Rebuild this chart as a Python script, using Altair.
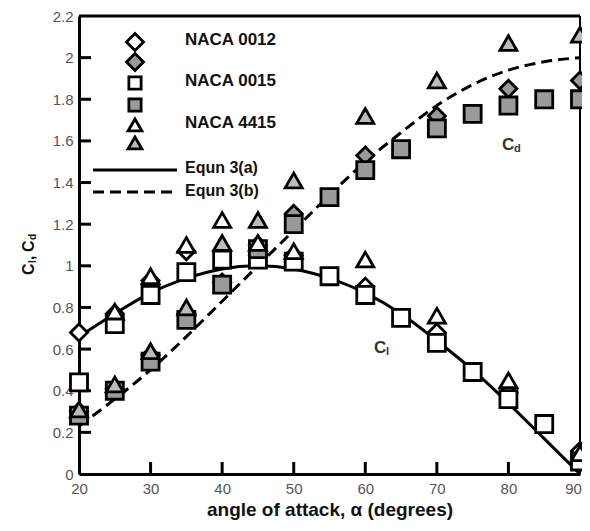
import altair as alt
import pandas as pd

# ---------------- data ----------------
angle_ticks = [20, 30, 40, 50, 60, 70, 80, 90]
coef_ticks = [0, 0.2, 0.4, 0.6, 0.8, 1.0, 1.2, 1.4, 1.6, 1.8, 2.0, 2.2]
inner_angle_ticks = [30, 40, 50, 60, 70, 80]
inner_coef_ticks = [0.2, 0.4, 0.6, 0.8, 1.0, 1.2, 1.4, 1.6, 1.8, 2.0]

alpha_0012 = [20, 25, 30, 35, 40, 45, 50, 60, 70, 80, 90]
cl_0012 = [0.68, 0.77, 0.93, 1.07, 1.07, 1.05, 1.05, 0.90, 0.68, 0.39, 0.11]
cd_0012 = [0.30, 0.41, 0.57, 0.77, 0.92, 1.10, 1.25, 1.53, 1.72, 1.85, 1.89]

alpha_0015 = [20, 25, 30, 35, 40, 45, 50, 55, 60, 65, 70, 75, 80, 85, 90]
cl_0015 = [0.44, 0.72, 0.86, 0.97, 1.03, 1.03, 1.02, 0.95, 0.86, 0.75, 0.63, 0.49, 0.36, 0.24, 0.06]
cd_0015 = [0.28, 0.40, 0.54, 0.74, 0.91, 1.08, 1.20, 1.33, 1.46, 1.56, 1.66, 1.73, 1.77, 1.80, 1.80]

alpha_4415_cl = [25, 30, 35, 40, 45, 50, 60, 70, 80, 90]
cl_4415 = [0.78, 0.95, 1.10, 1.22, 1.11, 1.07, 1.03, 0.76, 0.45, 0.10]
alpha_4415_cd = [20, 25, 30, 35, 40, 45, 50, 60, 70, 80, 90]
cd_4415 = [0.31, 0.43, 0.59, 0.80, 1.11, 1.22, 1.41, 1.72, 1.89, 2.07, 2.11]

curve_alpha = [20, 25, 30, 35, 40, 45, 50, 55, 60, 65, 70, 75, 80, 85, 90]
curve_cl = [0.66, 0.77, 0.87, 0.94, 0.985, 1.0, 0.985, 0.94, 0.87, 0.77, 0.64, 0.50, 0.34, 0.17, 0.0]
curve_cd = [0.23, 0.36, 0.50, 0.66, 0.83, 1.0, 1.17, 1.34, 1.50, 1.64, 1.77, 1.87, 1.94, 1.98, 2.0]

series_names = ["0012 Cl", "0012 Cd", "0015 Cl", "0015 Cd", "4415 Cl", "4415 Cd"]

# ---------------- tables ----------------
rows = []
for name, al, vals in [
    ("0012 Cl", alpha_0012, cl_0012), ("0012 Cd", alpha_0012, cd_0012),
    ("0015 Cl", alpha_0015, cl_0015), ("0015 Cd", alpha_0015, cd_0015),
    ("4415 Cl", alpha_4415_cl, cl_4415), ("4415 Cd", alpha_4415_cd, cd_4415),
]:
    for a, v in zip(al, vals):
        rows.append({"alpha": a, "coef": v, "series": name})
pts = pd.DataFrame(rows)

curves = pd.DataFrame({"alpha": curve_alpha + curve_alpha,
                       "coef": curve_cl + curve_cd,
                       "eq": ["3(a)"] * len(curve_alpha) + ["3(b)"] * len(curve_alpha)})

W, H = 501, 458
GRAY = "#9a9a9a"
xs = alt.Scale(domain=[20, 90], nice=False, zero=False)
ys = alt.Scale(domain=[0, 2.2], nice=False, zero=False)

x_axis = alt.Axis(values=angle_ticks, ticks=False, tickSize=0, domainWidth=3, domainColor="black",
                  labelFont="Liberation Sans", labelFontSize=15, labelColor="#555555", labelPadding=7,
                  labelFlush=False,
                  labelOffset={"condition": {"test": "datum.value == 90", "value": -7}, "value": 0},
                  grid=False, title="angle of attack, α (degrees)",
                  titleFont="Liberation Sans", titleFontSize=19, titleFontWeight="bold",
                  titleColor="#111111", titlePadding=4)
y_axis = alt.Axis(values=coef_ticks, format="~g", ticks=False, tickSize=0, domainWidth=3, domainColor="black",
                  labelFont="Liberation Sans", labelFontSize=15, labelColor="#555555", labelPadding=6,
                  labelFlush=False, grid=False, title=" ")

X = lambda: alt.X("alpha:Q", scale=xs, axis=x_axis)
Y = lambda: alt.Y("coef:Q", scale=ys, axis=y_axis)

sol = alt.Chart(curves).transform_filter(alt.datum.eq == "3(a)").mark_line(
    color="black", strokeWidth=3, interpolate="monotone").encode(x=X(), y=Y())
dash = alt.Chart(curves).transform_filter(alt.datum.eq == "3(b)").mark_line(
    color="black", strokeWidth=3, strokeDash=[11, 6], interpolate="monotone").encode(x=X(), y=Y())

shape_scale = alt.Scale(domain=series_names,
                        range=["diamond", "diamond", "square", "square", "triangle-up", "triangle-up"])
fill_scale = alt.Scale(domain=series_names,
                       range=["white", GRAY, "white", GRAY, "white", "#bbbbbb"])
size_scale = alt.Scale(domain=series_names, range=[290, 290, 150, 150, 190, 190])

points = alt.Chart(pts).mark_point(filled=False, stroke="black", strokeWidth=2.8, opacity=1).encode(
    x=X(), y=Y(),
    shape=alt.Shape("series:N", scale=shape_scale, legend=None),
    fill=alt.Fill("series:N", scale=fill_scale, legend=None),
    size=alt.Size("series:N", scale=size_scale, legend=None),
)

xt = alt.Chart(pd.DataFrame({"alpha": inner_angle_ticks})).mark_rule(color="black", strokeWidth=3).encode(
    x=X(), y=alt.value(H), y2=alt.value(H - 12))
yt = alt.Chart(pd.DataFrame({"coef": inner_coef_ticks})).mark_rule(color="black", strokeWidth=3).encode(
    y=Y(), x=alt.value(0), x2=alt.value(12))

one = pd.DataFrame({"k": [0]})
top = alt.Chart(one).mark_rule(color="black", strokeWidth=3).encode(
    x=alt.value(0), x2=alt.value(W), y=alt.value(0))
right = alt.Chart(one).mark_rule(color="black", strokeWidth=2).encode(
    x=alt.value(W), y=alt.value(0), y2=alt.value(H))


def txt(s, x, y, size=16, weight="bold", color="#111111", angle=0, align="left", baseline="middle"):
    return alt.Chart(one).mark_text(text=s, font="Liberation Sans", fontSize=size, fontWeight=weight,
                                    color=color, angle=angle, align=align, baseline=baseline).encode(
        x=alt.value(x), y=alt.value(y))


def sym(shape, fill, x, y, size):
    return alt.Chart(one).mark_point(shape=shape, filled=False, fill=fill, stroke="black",
                                     strokeWidth=2.8, opacity=1, size=size).encode(
        x=alt.value(x), y=alt.value(y))


legend = [
    sym("diamond", "white", 56, 26, 290), sym("diamond", GRAY, 56, 46, 290),
    sym("square", "white", 56, 67, 150), sym("square", GRAY, 56, 89, 150),
    sym("triangle-up", "white", 56, 109, 190), sym("triangle-up", "#bbbbbb", 56, 127, 190),
    txt("NACA 0012", 106, 24, 17), txt("NACA 0015", 106, 65, 17), txt("NACA 4415", 106, 107, 17),
    alt.Chart(one).mark_rule(color="black", strokeWidth=3).encode(
        x=alt.value(14), x2=alt.value(98), y=alt.value(154)),
    alt.Chart(one).mark_rule(color="black", strokeWidth=3, strokeDash=[11, 6]).encode(
        x=alt.value(14), x2=alt.value(98), y=alt.value(176)),
    txt("Equn 3(a)", 106, 152, 16), txt("Equn 3(b)", 106, 175, 16),
]

annots = [
    txt("C", 423, 129, 17, color="#333333"), txt("d", 435, 133, 11, color="#333333"),
    txt("C", 295, 332, 17, color="#333333"), txt("l", 307, 336, 11, color="#333333"),
    # rotated y-axis title "Cl, Cd"
    txt("C", -50, 259, 16, angle=270), txt("l", -46, 247, 10, angle=270),
    txt(",", -50, 244, 16, angle=270), txt("C", -50, 236, 16, angle=270),
    txt("d", -46, 224, 10, angle=270),
]

chart = alt.layer(sol, dash, xt, yt, top, right, points, *legend, *annots).properties(
    width=W, height=H,
    autosize=alt.AutoSizeParams(type="none"),
    padding={"left": 71, "top": 8, "right": 2, "bottom": 49},
).configure_view(stroke=None).configure(background="white")

chart.save("out.html", embed_options={"renderer": "svg", "actions": False})
